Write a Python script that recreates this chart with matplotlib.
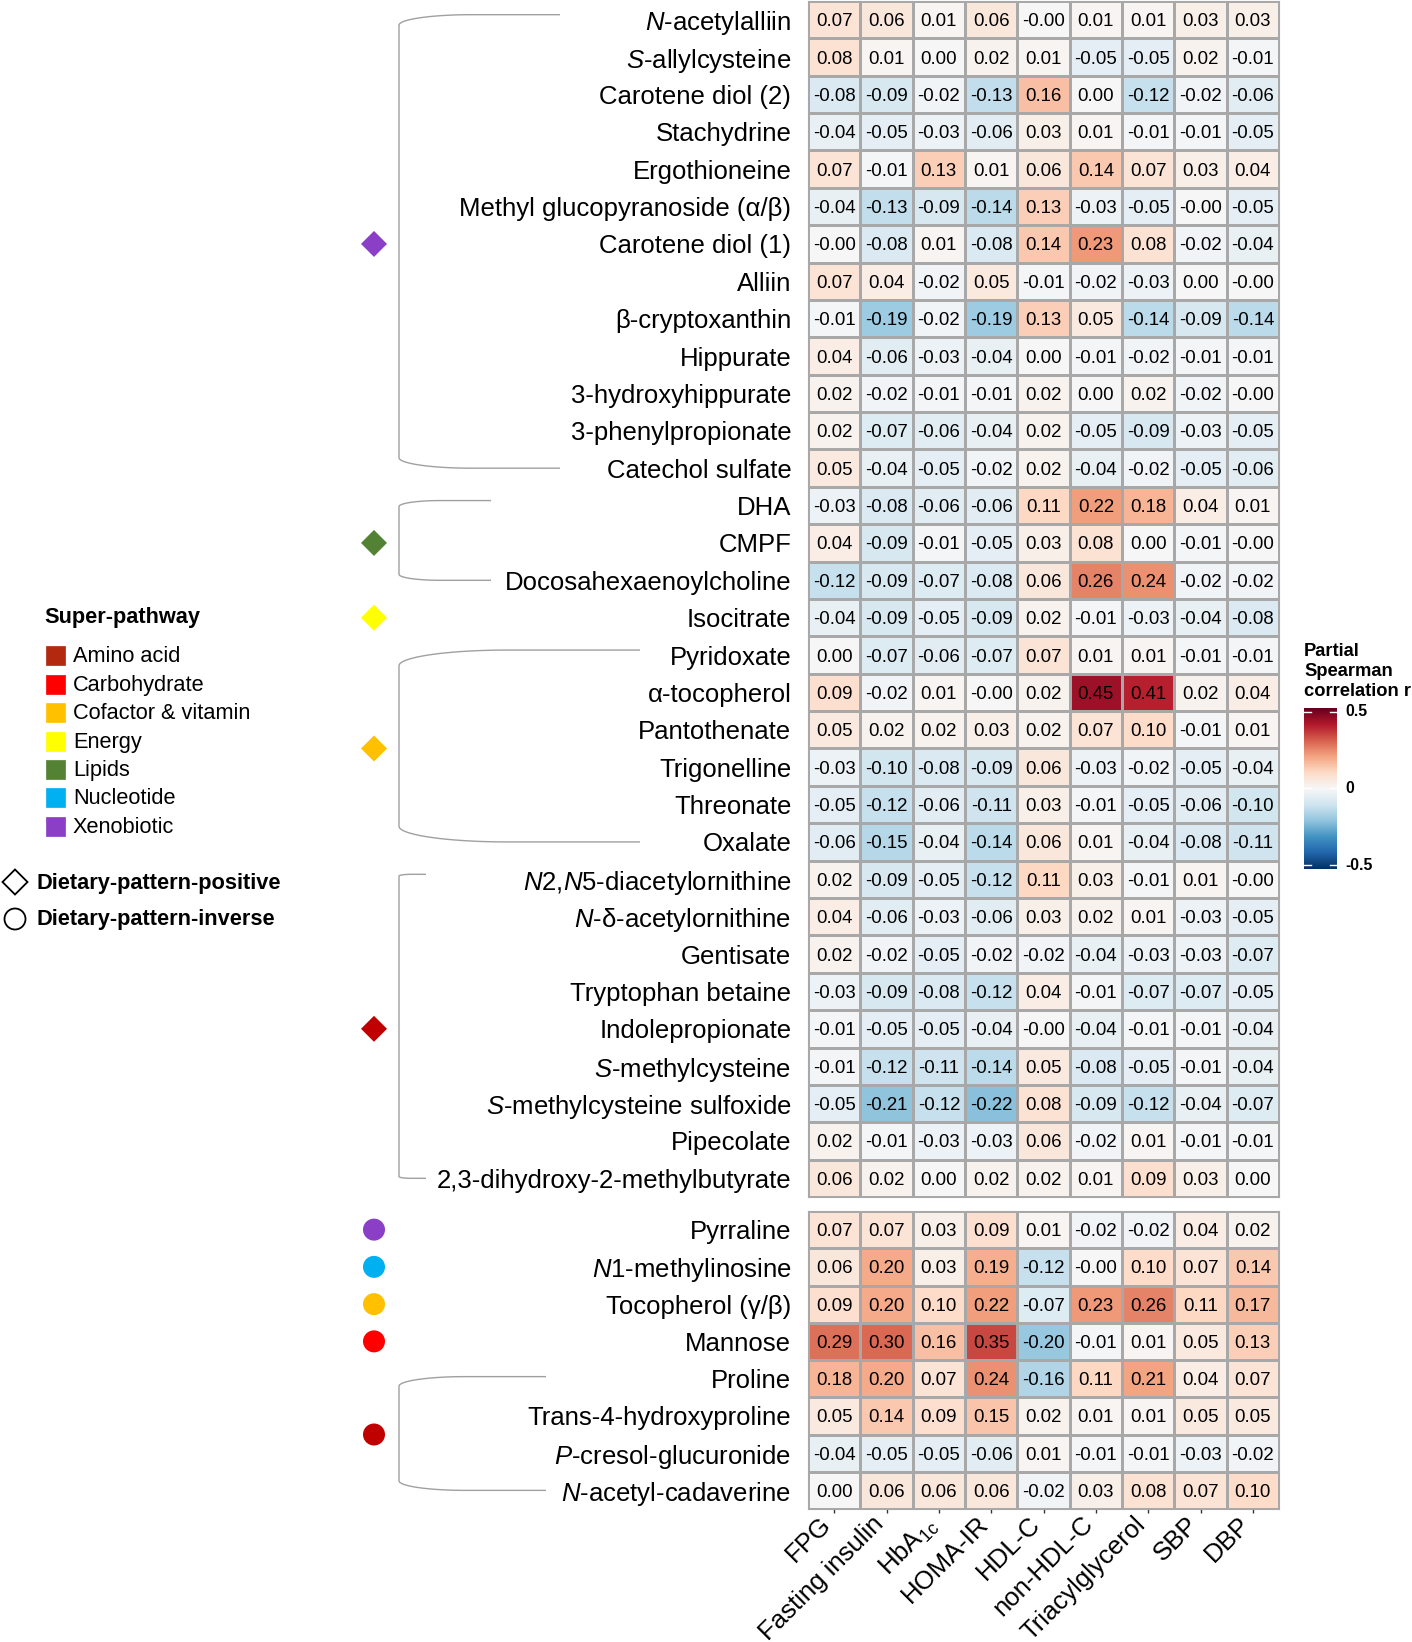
import matplotlib
matplotlib.use("Agg")
import matplotlib.pyplot as plt
import matplotlib.transforms as mtransforms
import numpy as np
from matplotlib.colors import Normalize
from matplotlib.patches import Rectangle, Polygon, Circle

plt.rcParams["font.family"] = ["Liberation Sans", "DejaVu Sans"]
plt.rcParams["mathtext.fontset"] = "custom"
plt.rcParams["mathtext.rm"] = "Liberation Sans"
plt.rcParams["mathtext.it"] = "Liberation Sans:italic"
plt.rcParams["mathtext.bf"] = "Liberation Sans:bold"

# --- data --------------------------------------------------------------------
traits = ["FPG", "Fasting insulin", r"HbA$_{\mathrm{1c}}$", "HOMA-IR", "HDL-C",
          "non-HDL-C", "Triacylglycerol", "SBP", "DBP"]

metab_pos = [
    r"$\it{N}$-acetylalliin", r"$\it{S}$-allylcysteine", "Carotene diol (2)",
    "Stachydrine", "Ergothioneine", "Methyl glucopyranoside (α/β)",
    "Carotene diol (1)", "Alliin", "β-cryptoxanthin", "Hippurate",
    "3-hydroxyhippurate", "3-phenylpropionate", "Catechol sulfate",
    "DHA", "CMPF", "Docosahexaenoylcholine",
    "Isocitrate",
    "Pyridoxate", "α-tocopherol", "Pantothenate", "Trigonelline", "Threonate",
    "Oxalate",
    r"$\it{N}$2,$\it{N}$5-diacetylornithine", r"$\it{N}$-δ-acetylornithine",
    "Gentisate", "Tryptophan betaine", "Indolepropionate",
    r"$\it{S}$-methylcysteine", r"$\it{S}$-methylcysteine sulfoxide",
    "Pipecolate", "2,3-dihydroxy-2-methylbutyrate",
]

r_pos = [
    [0.07, 0.06, 0.01, 0.06, -0.00, 0.01, 0.01, 0.03, 0.03],
    [0.08, 0.01, 0.00, 0.02, 0.01, -0.05, -0.05, 0.02, -0.01],
    [-0.08, -0.09, -0.02, -0.13, 0.16, 0.00, -0.12, -0.02, -0.06],
    [-0.04, -0.05, -0.03, -0.06, 0.03, 0.01, -0.01, -0.01, -0.05],
    [0.07, -0.01, 0.13, 0.01, 0.06, 0.14, 0.07, 0.03, 0.04],
    [-0.04, -0.13, -0.09, -0.14, 0.13, -0.03, -0.05, -0.00, -0.05],
    [-0.00, -0.08, 0.01, -0.08, 0.14, 0.23, 0.08, -0.02, -0.04],
    [0.07, 0.04, -0.02, 0.05, -0.01, -0.02, -0.03, 0.00, -0.00],
    [-0.01, -0.19, -0.02, -0.19, 0.13, 0.05, -0.14, -0.09, -0.14],
    [0.04, -0.06, -0.03, -0.04, 0.00, -0.01, -0.02, -0.01, -0.01],
    [0.02, -0.02, -0.01, -0.01, 0.02, 0.00, 0.02, -0.02, -0.00],
    [0.02, -0.07, -0.06, -0.04, 0.02, -0.05, -0.09, -0.03, -0.05],
    [0.05, -0.04, -0.05, -0.02, 0.02, -0.04, -0.02, -0.05, -0.06],
    [-0.03, -0.08, -0.06, -0.06, 0.11, 0.22, 0.18, 0.04, 0.01],
    [0.04, -0.09, -0.01, -0.05, 0.03, 0.08, 0.00, -0.01, -0.00],
    [-0.12, -0.09, -0.07, -0.08, 0.06, 0.26, 0.24, -0.02, -0.02],
    [-0.04, -0.09, -0.05, -0.09, 0.02, -0.01, -0.03, -0.04, -0.08],
    [0.00, -0.07, -0.06, -0.07, 0.07, 0.01, 0.01, -0.01, -0.01],
    [0.09, -0.02, 0.01, -0.00, 0.02, 0.45, 0.41, 0.02, 0.04],
    [0.05, 0.02, 0.02, 0.03, 0.02, 0.07, 0.10, -0.01, 0.01],
    [-0.03, -0.10, -0.08, -0.09, 0.06, -0.03, -0.02, -0.05, -0.04],
    [-0.05, -0.12, -0.06, -0.11, 0.03, -0.01, -0.05, -0.06, -0.10],
    [-0.06, -0.15, -0.04, -0.14, 0.06, 0.01, -0.04, -0.08, -0.11],
    [0.02, -0.09, -0.05, -0.12, 0.11, 0.03, -0.01, 0.01, -0.00],
    [0.04, -0.06, -0.03, -0.06, 0.03, 0.02, 0.01, -0.03, -0.05],
    [0.02, -0.02, -0.05, -0.02, -0.02, -0.04, -0.03, -0.03, -0.07],
    [-0.03, -0.09, -0.08, -0.12, 0.04, -0.01, -0.07, -0.07, -0.05],
    [-0.01, -0.05, -0.05, -0.04, -0.00, -0.04, -0.01, -0.01, -0.04],
    [-0.01, -0.12, -0.11, -0.14, 0.05, -0.08, -0.05, -0.01, -0.04],
    [-0.05, -0.21, -0.12, -0.22, 0.08, -0.09, -0.12, -0.04, -0.07],
    [0.02, -0.01, -0.03, -0.03, 0.06, -0.02, 0.01, -0.01, -0.01],
    [0.06, 0.02, 0.00, 0.02, 0.02, 0.01, 0.09, 0.03, 0.00],
]

metab_inv = [
    "Pyrraline", r"$\it{N}$1-methylinosine", "Tocopherol (γ/β)", "Mannose",
    "Proline", "Trans-4-hydroxyproline", r"$\it{P}$-cresol-glucuronide",
    r"$\it{N}$-acetyl-cadaverine",
]

r_inv = [
    [0.07, 0.07, 0.03, 0.09, 0.01, -0.02, -0.02, 0.04, 0.02],
    [0.06, 0.20, 0.03, 0.19, -0.12, -0.00, 0.10, 0.07, 0.14],
    [0.09, 0.20, 0.10, 0.22, -0.07, 0.23, 0.26, 0.11, 0.17],
    [0.29, 0.30, 0.16, 0.35, -0.20, -0.01, 0.01, 0.05, 0.13],
    [0.18, 0.20, 0.07, 0.24, -0.16, 0.11, 0.21, 0.04, 0.07],
    [0.05, 0.14, 0.09, 0.15, 0.02, 0.01, 0.01, 0.05, 0.05],
    [-0.04, -0.05, -0.05, -0.06, 0.01, -0.01, -0.01, -0.03, -0.02],
    [0.00, 0.06, 0.06, 0.06, -0.02, 0.03, 0.08, 0.07, 0.10],
]

pathways = ["Amino acid", "Carbohydrate", "Cofactor & vitamin", "Energy",
            "Lipids", "Nucleotide", "Xenobiotic"]
pathway_colors = ["#C00000", "#FF0000", "#FFC000", "#FFFF00",
                  "#548235", "#00B0F0", "#8A3FC6"]
legend_colors = ["#B3290F", "#FF0000", "#FFC000", "#FFFF00",
                 "#548235", "#00B0F0", "#8A3FC6"]

# (pathway, first row, last row)
groups_pos = [("Xenobiotic", 0, 12), ("Lipids", 13, 15), ("Energy", 16, 16),
              ("Cofactor & vitamin", 17, 22), ("Amino acid", 23, 31)]
groups_inv = [("Xenobiotic", 0, 0), ("Nucleotide", 1, 1),
              ("Cofactor & vitamin", 2, 2), ("Carbohydrate", 3, 3),
              ("Amino acid", 4, 7)]

# --- layout (pixels) ---------------------------------------------------------
W, H = 1412, 1642
HM_L, HM_R = 808, 1279
B1_T, B1_B = 1, 1197
B2_T, B2_B = 1211, 1509
MARK_X = 374
BRACKET_X = 399
bracket_end_pos = {0: 560, 1: 491, 3: 640, 4: 426}
bracket_end_inv = {4: 546}

VMAX = 0.526
norm = Normalize(-VMAX, VMAX)
cmap = plt.get_cmap("RdBu_r")
color_of = dict(zip(pathways, pathway_colors))

fig = plt.figure(figsize=(W / 100, H / 100), dpi=100)


def px_axes(l, t, r, b, **kw):
    return fig.add_axes([l / W, 1 - b / H, (r - l) / W, (b - t) / H], **kw)


ov = px_axes(0, 0, W, H)
ov.set_xlim(0, W)
ov.set_ylim(H, 0)
ov.axis("off")


def draw_heat(ax, vals, labels):
    arr = np.array(vals)
    nr, nc = arr.shape
    ax.pcolormesh(np.arange(nc + 1), np.arange(nr + 1), arr, cmap=cmap,
                  norm=norm, edgecolors="#a8a8a8", linewidth=0.8)
    ax.set_xlim(0, nc)
    ax.set_ylim(nr, 0)
    for i in range(nr):
        for j in range(nc):
            ax.text(j + 0.5, i + 0.5, f"{arr[i, j]:.2f}", ha="center",
                    va="center_baseline", fontsize=13.4, color="black")
    ax.set_yticks(np.arange(nr) + 0.5, labels, fontsize=18.5)
    ax.tick_params(axis="y", length=0, pad=12)
    for s in ax.spines.values():
        s.set_color("#a8a8a8")
        s.set_linewidth(0.8)


ax1 = px_axes(HM_L, B1_T, HM_R, B1_B)
draw_heat(ax1, r_pos, metab_pos)
ax1.set_xticks([])

ax2 = px_axes(HM_L, B2_T, HM_R, B2_B)
draw_heat(ax2, r_inv, metab_inv)
ax2.set_xticks(np.arange(len(traits)) + 0.5, traits, rotation=45, ha="right",
               rotation_mode="anchor", fontsize=18.5)
ax2.tick_params(axis="x", length=3, width=1, color="#333333", pad=2)
shift = mtransforms.ScaledTranslation(-15 / 100, 4 / 100, fig.dpi_scale_trans)
for lab in ax2.get_xticklabels():
    lab.set_transform(lab.get_transform() + shift)


def row_y(top, bot, n, i):
    return top + (i + 0.5) * (bot - top) / n


def draw_bracket(y0, y1, x_end):
    L = x_end - BRACKET_X
    a, b = 0.45 * L, 0.065 * L
    t = np.linspace(0, np.pi / 2, 30)
    top_x = BRACKET_X + a * (1 - np.cos(t))
    top_y = y0 + b * (1 - np.sin(t))
    xs = np.concatenate([[x_end], top_x[::-1], top_x, [x_end]])
    ys = np.concatenate([[y0], top_y[::-1], (y1 - (top_y - y0)), [y1]])
    ov.plot(xs, ys, color="#a0a0a0", lw=1.0, solid_capstyle="butt")


def draw_marker(kind, x, y, color, size, face=True):
    if kind == "D":
        h = size / 2
        p = Polygon([[x - h, y], [x, y - h], [x + h, y], [x, y + h]],
                    closed=True, facecolor=color if face else "none",
                    edgecolor=color if face else "black",
                    lw=0 if face else 1.3)
    else:
        p = Circle((x, y), size / 2, facecolor=color if face else "none",
                   edgecolor=color if face else "black",
                   lw=0 if face else 1.3)
    ov.add_patch(p)


for k, (pw, i0, i1) in enumerate(groups_pos):
    y0 = row_y(B1_T, B1_B, len(metab_pos), i0)
    y1 = row_y(B1_T, B1_B, len(metab_pos), i1)
    draw_marker("D", MARK_X, (y0 + y1) / 2, color_of[pw], 26)
    if k in bracket_end_pos:
        draw_bracket(y0 - 5, y1, bracket_end_pos[k])

for k, (pw, i0, i1) in enumerate(groups_inv):
    y0 = row_y(B2_T, B2_B, len(metab_inv), i0)
    y1 = row_y(B2_T, B2_B, len(metab_inv), i1)
    draw_marker("o", MARK_X, (y0 + y1) / 2, color_of[pw], 22)
    if k in bracket_end_inv:
        draw_bracket(y0 - 2, y1, bracket_end_inv[k])

# super-pathway legend
ov.text(44, 618, "Super-pathway", fontsize=15.7, fontweight="bold",
        ha="left", va="center")
for i, (name, c) in enumerate(zip(pathways, legend_colors)):
    y = 656 + i * 28.4
    ov.add_patch(Rectangle((46, y - 9.5), 19, 19, facecolor=c, edgecolor=c,
                           lw=0.5))
    ov.text(73, y + 1, name, fontsize=15.7, ha="left", va="center")

# shape legend
draw_marker("D", 15, 882, None, 25, face=False)
ov.text(36, 883, "Dietary-pattern-positive", fontsize=15.7,
        fontweight="bold", ha="left", va="center")
draw_marker("o", 15, 919, None, 21, face=False)
ov.text(36, 920, "Dietary-pattern-inverse", fontsize=15.7,
        fontweight="bold", ha="left", va="center")

# colour bar
CB_L, CB_R, CB_T, CB_B = 1304, 1337, 708, 869
cb = px_axes(CB_L, CB_T, CB_R, CB_B)
grad = np.linspace(VMAX, -VMAX, 256)[:, None]
cb.imshow(grad, cmap=cmap, norm=norm, aspect="auto",
          extent=[0, 1, -VMAX, VMAX])
cb.set_xlim(0, 1)
cb.set_ylim(-VMAX, VMAX)
cb.axis("off")
for v, lab in [(0.5, "0.5"), (0.0, "0"), (-0.5, "-0.5")]:
    cb.plot([0, 0.2], [v, v], color="white", lw=1)
    cb.plot([0.8, 1], [v, v], color="white", lw=1)
    ypx = (CB_T + CB_B) / 2 - v / VMAX * (CB_B - CB_T) / 2
    ov.text(1345, ypx, lab, fontsize=11.4, fontweight="bold", ha="left",
            va="center")
for y, line in zip([651, 671, 691], ["Partial", "Spearman", "correlation r"]):
    ov.text(1304, y, line, fontsize=13.2, fontweight="bold", ha="left",
            va="center")

fig.savefig("out.png", dpi=100)
